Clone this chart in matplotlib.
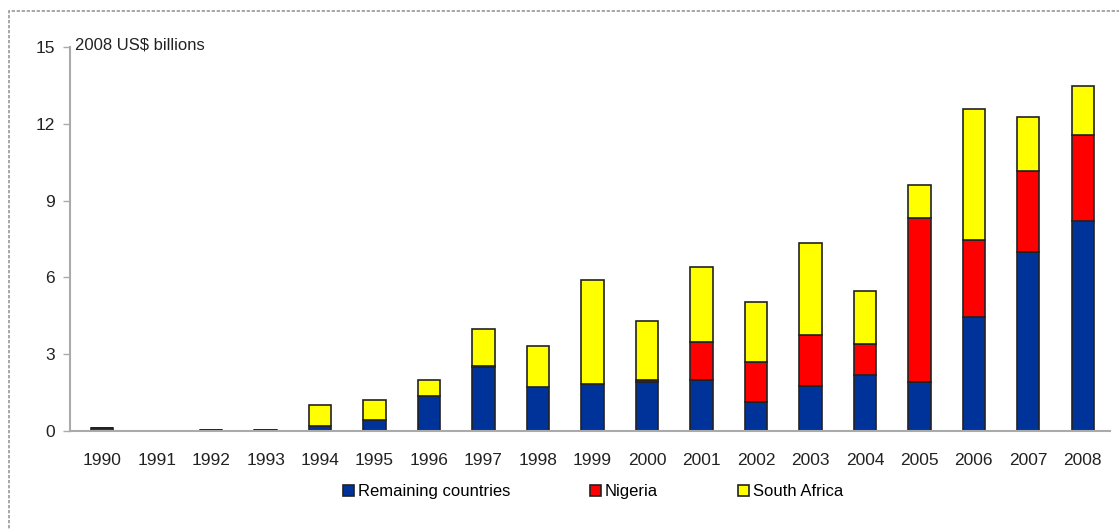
import numpy as np
import matplotlib.pyplot as plt
from matplotlib.patches import Rectangle

years = [str(y) for y in range(1990, 2009)]
remaining = [0.10, 0.0, 0.05, 0.05, 0.20, 0.43, 1.37, 2.50, 1.72, 1.83, 1.90,
             2.00, 1.13, 1.76, 2.19, 1.91, 4.45, 7.00, 8.21]
nigeria = [0.0, 0.0, 0.0, 0.0, 0.0, 0.0, 0.0, 0.05, 0.0, 0.0, 0.10,
           1.48, 1.57, 1.99, 1.21, 6.42, 3.00, 3.16, 3.34]
south_africa = [0.0, 0.0, 0.0, 0.0, 0.80, 0.77, 0.63, 1.45, 1.58, 4.07, 2.30,
                2.92, 2.34, 3.60, 2.07, 1.27, 5.15, 2.11, 1.93]
yticks = [0, 3, 6, 9, 12, 15]

plt.rcParams['font.family'] = ['Liberation Sans', 'DejaVu Sans']

fig = plt.figure(figsize=(11.19, 5.30), dpi=100)
ax = fig.add_axes([0.0626, 0.187, 0.9294, 0.724])

x = np.arange(len(years))
rem = np.array(remaining)
nig = np.array(nigeria)
sa = np.array(south_africa)
w = 0.41
edge = dict(edgecolor='#222222', linewidth=1.2)
ax.bar(x, rem, w, color='#003399', label='Remaining countries', **edge)
ax.bar(x, nig, w, bottom=rem, color='#ff0000', label='Nigeria', **edge)
ax.bar(x, sa, w, bottom=rem + nig, color='#ffff00', label='South Africa', **edge)

ax.set_xlim(-0.59, 18.5)
ax.set_ylim(0, 15)
ax.set_yticks(yticks)
ax.set_xticks(x)
ax.set_xticklabels(years)
ax.tick_params(axis='x', length=0, pad=16, labelsize=12.5, colors='#222222')
ax.tick_params(axis='y', length=5, width=1, colors='#aaaaaa',
               labelcolor='#222222', labelsize=12.5, pad=6)
for s in ['top', 'right']:
    ax.spines[s].set_visible(False)
for s in ['left', 'bottom']:
    ax.spines[s].set_color('#aaaaaa')
    ax.spines[s].set_linewidth(1.5)

ax.text(0.005, 0.985, '2008 US$ billions', transform=ax.transAxes,
        fontsize=12, color='#222222', va='bottom', ha='left')

fig.legend(loc='center', bbox_to_anchor=(0.53, 0.072), ncol=3, frameon=False,
           fontsize=12, handlelength=0.65, handleheight=0.65,
           handletextpad=0.25, columnspacing=4.8)

# dashed frame around the chart area
fig.patches.append(Rectangle((9 / 1119, -0.05), 1.1, 1 - 11 / 530 + 0.05,
                             transform=fig.transFigure, fill=False,
                             edgecolor='#999999', linestyle=(0, (2, 1)),
                             linewidth=1.2))

fig.savefig('out.png', dpi=100)
